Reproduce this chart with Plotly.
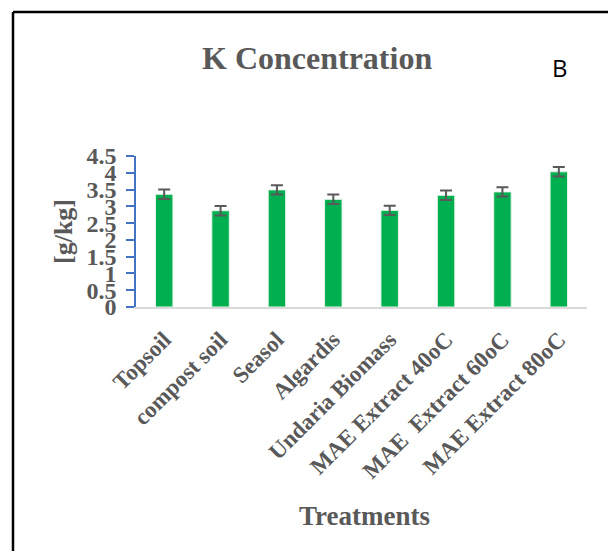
import plotly.graph_objects as go

categories = ["Topsoil", "compost soil", "Seasol", "Algardis", "Undaria Biomass",
              "MAE Extract 40oC", "MAE\u00a0 Extract 60oC", "MAE Extract 80oC"]
k_values = [3.36, 2.87, 3.49, 3.21, 2.88, 3.33, 3.43, 4.03]
k_errors = [0.14, 0.14, 0.14, 0.14, 0.14, 0.14, 0.14, 0.14]
y_ticks = [0, 0.5, 1, 1.5, 2, 2.5, 3, 3.5, 4, 4.5]

GREY = "#595959"
SERIF = "Liberation Serif"

OFF = 8  # page body margin
W, H = 616 - OFF, 551 - OFF
# plot area in page pixels
L, R, T, B = 136, 587, 156, 307


def px(x):
    return (x - L) / (R - L)


def py(y):
    return (B - y) / (B - T)


fig = go.Figure()
fig.add_trace(go.Bar(
    x=categories, y=k_values,
    marker=dict(color="#00B050", line=dict(color="#E8F5E9", width=1)),
    width=0.31,
    error_y=dict(type="data", array=k_errors, visible=True,
                 color=GREY, thickness=2, width=6),
))

fig.update_layout(
    width=W, height=H,
    margin=dict(l=L - OFF, r=616 - R, t=T - OFF, b=551 - B, pad=0),
    paper_bgcolor="white", plot_bgcolor="white",
    showlegend=False,
    xaxis=dict(
        showline=True, linecolor="#D9D9D9", linewidth=2,
        showgrid=False, ticks="", tickangle=-45, ticklabelstandoff=8,
        tickfont=dict(family=SERIF, size=23, color=GREY, weight="bold"),
        fixedrange=True,
    ),
    yaxis=dict(
        range=[0, 4.5], tickvals=y_ticks,
        ticktext=[f"{v:g}" for v in y_ticks],
        showline=True, linecolor="#4472C4", linewidth=1.5,
        ticks="outside", ticklen=8, tickcolor="#4472C4", tickwidth=1.5,
        ticklabelstandoff=5,
        showgrid=False, zeroline=False,
        tickfont=dict(family=SERIF, size=24, color=GREY, weight="bold"),
        fixedrange=True,
    ),
    annotations=[
        dict(text="K Concentration", x=px(317), y=py(58), xref="paper", yref="paper",
             showarrow=False, xanchor="center", yanchor="middle",
             font=dict(family=SERIF, size=32, color=GREY, weight="bold")),
        dict(text="B", x=px(560), y=py(68), xref="paper", yref="paper",
             showarrow=False, xanchor="center", yanchor="middle",
             font=dict(family="Open Sans", size=24, color="black")),
        dict(text="Treatments", x=px(364), y=py(516), xref="paper", yref="paper",
             showarrow=False, xanchor="center", yanchor="middle",
             font=dict(family=SERIF, size=27, color=GREY, weight="bold")),
        dict(text="[g/kg]", x=px(63), y=py(232), xref="paper", yref="paper",
             showarrow=False, xanchor="center", yanchor="middle", textangle=-90,
             font=dict(family=SERIF, size=26, color=GREY, weight="bold")),
    ],
    shapes=[
        dict(type="line", xref="paper", yref="paper",
             x0=px(13), x1=px(640), y0=py(12), y1=py(12),
             line=dict(color="black", width=2.5)),
        dict(type="line", xref="paper", yref="paper",
             x0=px(13), x1=px(13), y0=py(12), y1=py(580),
             line=dict(color="black", width=2.5)),
    ],
)

fig.write_html("out.html")
